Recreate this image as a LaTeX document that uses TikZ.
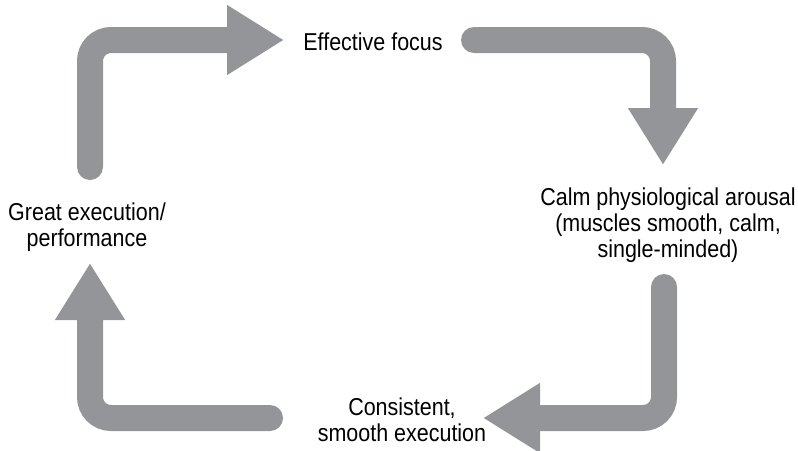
\documentclass[tikz,border=0pt]{standalone}
\usepackage{fontspec}
\setmainfont[FakeStretch=0.88]{Liberation Sans}
\usetikzlibrary{arrows.meta}
\definecolor{arrowgray}{RGB}{147,149,152}
\tikzset{
  cyclearrow/.style={draw=arrowgray, line width=19.5pt, line cap=round,
    rounded corners=15.75pt,
    -{Triangle[length=42.75pt,width=49.5pt]}},
  label/.style={anchor=north, inner sep=0pt, align=center, text=black,
    font=\fontsize{18.3}{19.5}\selectfont}
}
\begin{document}
\begin{tikzpicture}[x=0.75pt,y=-0.75pt]
\useasboundingbox (0,0) rectangle (798,450);
% text nodes
\node[label] (focus) at (373,33) {Effective focus};
\node[label] (calm) at (668,188) {Calm physiological arousal\\(muscles smooth, calm,\\single-minded)};
\node[label] (consistent) at (402,398) {Consistent,\\smooth execution};
\node[label] (great) at (87,203) {Great execution/\\performance};
% arrow end points
\coordinate (a1s) at (90,167);
\coordinate (a1c) at (90,40);
\coordinate (a1e) at (284,40);
\coordinate (a2s) at (474,40);
\coordinate (a2c) at (663,40);
\coordinate (a2e) at (663,165);
\coordinate (a3s) at (664,287);
\coordinate (a3c) at (664,418);
\coordinate (a3e) at (483,418);
\coordinate (a4s) at (270,418);
\coordinate (a4c) at (90,418);
\coordinate (a4e) at (90,263);
% arrows
\draw[cyclearrow] (a1s) -- (a1c) -- (a1e);
\draw[cyclearrow] (a2s) -- (a2c) -- (a2e);
\draw[cyclearrow] (a3s) -- (a3c) -- (a3e);
\draw[cyclearrow] (a4s) -- (a4c) -- (a4e);
\end{tikzpicture}
\end{document}
